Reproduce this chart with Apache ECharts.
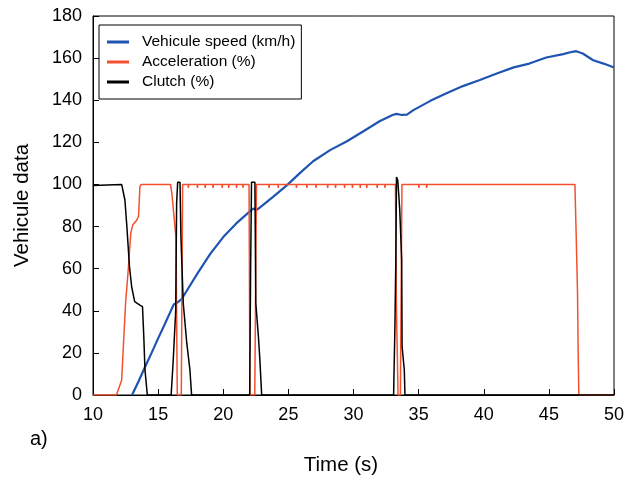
<!DOCTYPE html>
<html>
<head>
<meta charset="utf-8">
<script src="https://cdn.jsdelivr.net/npm/echarts@6/dist/echarts.min.js"></script>
<style>html,body{margin:0;padding:0;background:#fff}#c{width:630px;height:483px}</style>
</head>
<body>
<div id="c"></div>
<script>
// ---- data ----
var xTicks = [10, 15, 20, 25, 30, 35, 40, 45, 50];
var yTicks = [0, 20, 40, 60, 80, 100, 120, 140, 160, 180];
var seriesNames = ['Vehicule speed (km/h)', 'Acceleration (%)', 'Clutch (%)'];

var speedT = [13.0, 13.5, 14.0, 14.5, 15.0, 15.5, 16.0, 16.2, 16.5, 16.8, 17.2, 18.0, 19.0, 20.0, 21.0, 22.0, 22.3, 22.6, 22.9, 23.8, 24.9, 25.9, 26.9, 28.2, 29.5, 30.7, 32.0, 33.0, 33.3, 33.7, 34.1, 34.6, 35.9, 37.1, 38.4, 39.7, 41.0, 42.3, 43.5, 44.8, 46.1, 46.8, 47.1, 47.6, 48.4, 49.2, 50.0];
var speedV = [0, 6.5, 13.4, 20, 26.9, 33.5, 40.3, 43, 44, 45.5, 49.5, 57.5, 67, 75, 81.5, 87, 88.5, 88, 89.5, 94, 99.7, 105.5, 111, 116.3, 120.5, 125, 130, 133, 133.5, 133, 133.2, 135.3, 139.7, 143.2, 146.7, 149.6, 152.7, 155.6, 157.4, 160.3, 161.9, 163, 163.3, 162.2, 159, 157.4, 155.5];

var accelT = [10, 11.8, 12.2, 12.33, 12.5, 12.7, 12.9, 13.05, 13.35, 13.5, 13.6, 13.7, 15.95, 16.05, 16.37, 16.47, 16.78, 16.88,
  17.30, 17.32, 17.34, 18.00, 18.02, 18.04, 18.60, 18.62, 18.64, 19.20, 19.22, 19.24, 19.90, 19.92, 19.94, 20.40, 20.42, 20.44, 21.00, 21.02, 21.04, 21.50, 21.52, 21.54,
  21.98, 22.05, 22.42, 22.55,
  23.50, 23.52, 23.54, 24.20, 24.22, 24.24, 25.60, 25.62, 25.64, 26.40, 26.42, 26.44, 27.10, 27.12, 27.14, 28.00, 28.02, 28.04, 28.60, 28.62, 28.64, 29.30, 29.32, 29.34, 29.90, 29.92, 29.94, 30.50, 30.52, 30.54, 31.00, 31.02, 31.04, 31.80, 31.82, 31.84, 32.40, 32.42, 32.44,
  33.22, 33.30, 33.42, 33.60, 33.72,
  35.00, 35.02, 35.04, 35.60, 35.62, 35.64,
  47.0, 47.1, 47.2, 47.25, 47.3, 50];
var accelV = [0, 0, 7, 23, 43.6, 59, 77, 80.7, 83, 85, 99, 100, 100, 96, 75, 0, 0, 100,
  100, 98.3, 100, 100, 98.3, 100, 100, 98.3, 100, 100, 98.3, 100, 100, 98.3, 100, 100, 98.3, 100, 100, 98.3, 100, 100, 98.3, 100,
  100, 0, 0, 100,
  100, 98.3, 100, 100, 98.3, 100, 100, 98.3, 100, 100, 98.3, 100, 100, 98.3, 100, 100, 98.3, 100, 100, 98.3, 100, 100, 98.3, 100, 100, 98.3, 100, 100, 98.3, 100, 100, 98.3, 100, 100, 98.3, 100, 100, 98.3, 100,
  100, 40, 0, 0, 100,
  100, 98.3, 100, 100, 98.3, 100,
  100, 75, 48, 20, 0, 0];

var clutchT = [10, 10.1, 12.2, 12.45, 12.6, 12.8, 12.97, 13.2, 13.6, 13.8, 13.9, 13.99, 14.17, 16.0, 16.16, 16.35, 16.42, 16.5, 16.68, 16.75, 16.93, 17.2, 17.44, 17.57, 22.03, 22.1, 22.17, 22.43, 22.5, 22.7, 22.8, 22.95, 33.08, 33.1, 33.18, 33.25, 33.3, 33.4, 33.55, 33.7, 33.73, 33.9, 33.95, 50];
var clutchV = [99.5, 100, 100, 92.6, 80, 61, 51.4, 44.3, 42.7, 42, 27.7, 12, 0, 0, 16.6, 40, 91, 101, 101, 75, 43.6, 24.6, 12, 0, 0, 59, 101, 101, 43.6, 27.7, 18, 0, 0, 7, 32.4, 64, 103.5, 102, 88, 64, 23, 12, 0, 0];

function zip(a, b) { return a.map(function (v, i) { return [v, b[i]]; }); }

var chart = echarts.init(document.getElementById('c'), null, { renderer: 'canvas' });
var FONT = 'Liberation Sans';
chart.setOption({
  animation: false,
  backgroundColor: '#fff',
  textStyle: { fontFamily: FONT, color: '#000' },
  grid: { left: 93, right: 16, top: 16, bottom: 88, show: true, borderColor: '#000', borderWidth: 1, backgroundColor: 'transparent' },
  legend: {
    data: seriesNames,
    orient: 'vertical',
    left: 99, top: 25,
    padding: [9, 6, 9, 8],
    itemGap: 4,
    itemWidth: 22, itemHeight: 3,
    icon: 'rect',
    borderColor: '#000', borderWidth: 1, backgroundColor: '#fff',
    textStyle: { fontFamily: FONT, fontSize: 15.5, color: '#000', padding: [0, 0, 0, 8], lineHeight: 15.5 }
  },
  xAxis: {
    type: 'value', min: xTicks[0], max: xTicks[xTicks.length - 1], interval: 5,
    name: 'Time (s)', nameLocation: 'middle', nameGap: 60,
    nameTextStyle: { fontFamily: FONT, fontSize: 20.5, color: '#000', padding: [0, 25, 0, 0] },
    axisLine: { show: true, lineStyle: { color: '#000', width: 1 } },
    axisTick: { show: true, inside: true, length: 6, lineStyle: { color: '#000' } },
    axisLabel: { fontFamily: FONT, fontSize: 18, color: '#000', margin: 11 },
    splitLine: { show: false }
  },
  yAxis: {
    type: 'value', min: yTicks[0], max: yTicks[yTicks.length - 1], interval: 20,
    name: 'Vehicule data', nameLocation: 'middle', nameGap: 60,
    nameTextStyle: { fontFamily: FONT, fontSize: 20.5, color: '#000' },
    axisLine: { show: true, lineStyle: { color: '#000', width: 1 } },
    axisTick: { show: true, inside: true, length: 6, lineStyle: { color: '#000' } },
    axisLabel: { fontFamily: FONT, fontSize: 18, color: '#000', margin: 11 },
    splitLine: { show: false }
  },
  graphic: [{ type: 'text', left: 30, top: 429, style: { text: 'a)', font: '20px "Liberation Sans"', fill: '#000' } }],
  series: [
    { name: seriesNames[0], type: 'line', data: zip(speedT, speedV), showSymbol: false, symbol: 'none', color: '#1f55b0', lineStyle: { width: 2.2, color: '#1f55b0' }, z: 2 },
    { name: seriesNames[1], type: 'line', data: zip(accelT, accelV), showSymbol: false, symbol: 'none', color: '#f2502e', lineStyle: { width: 1.5, color: '#f2502e' }, z: 3 },
    { name: seriesNames[2], type: 'line', data: zip(clutchT, clutchV), showSymbol: false, symbol: 'none', color: '#000', lineStyle: { width: 1.5, color: '#000' }, z: 4 }
  ]
});
</script>
</body>
</html>
